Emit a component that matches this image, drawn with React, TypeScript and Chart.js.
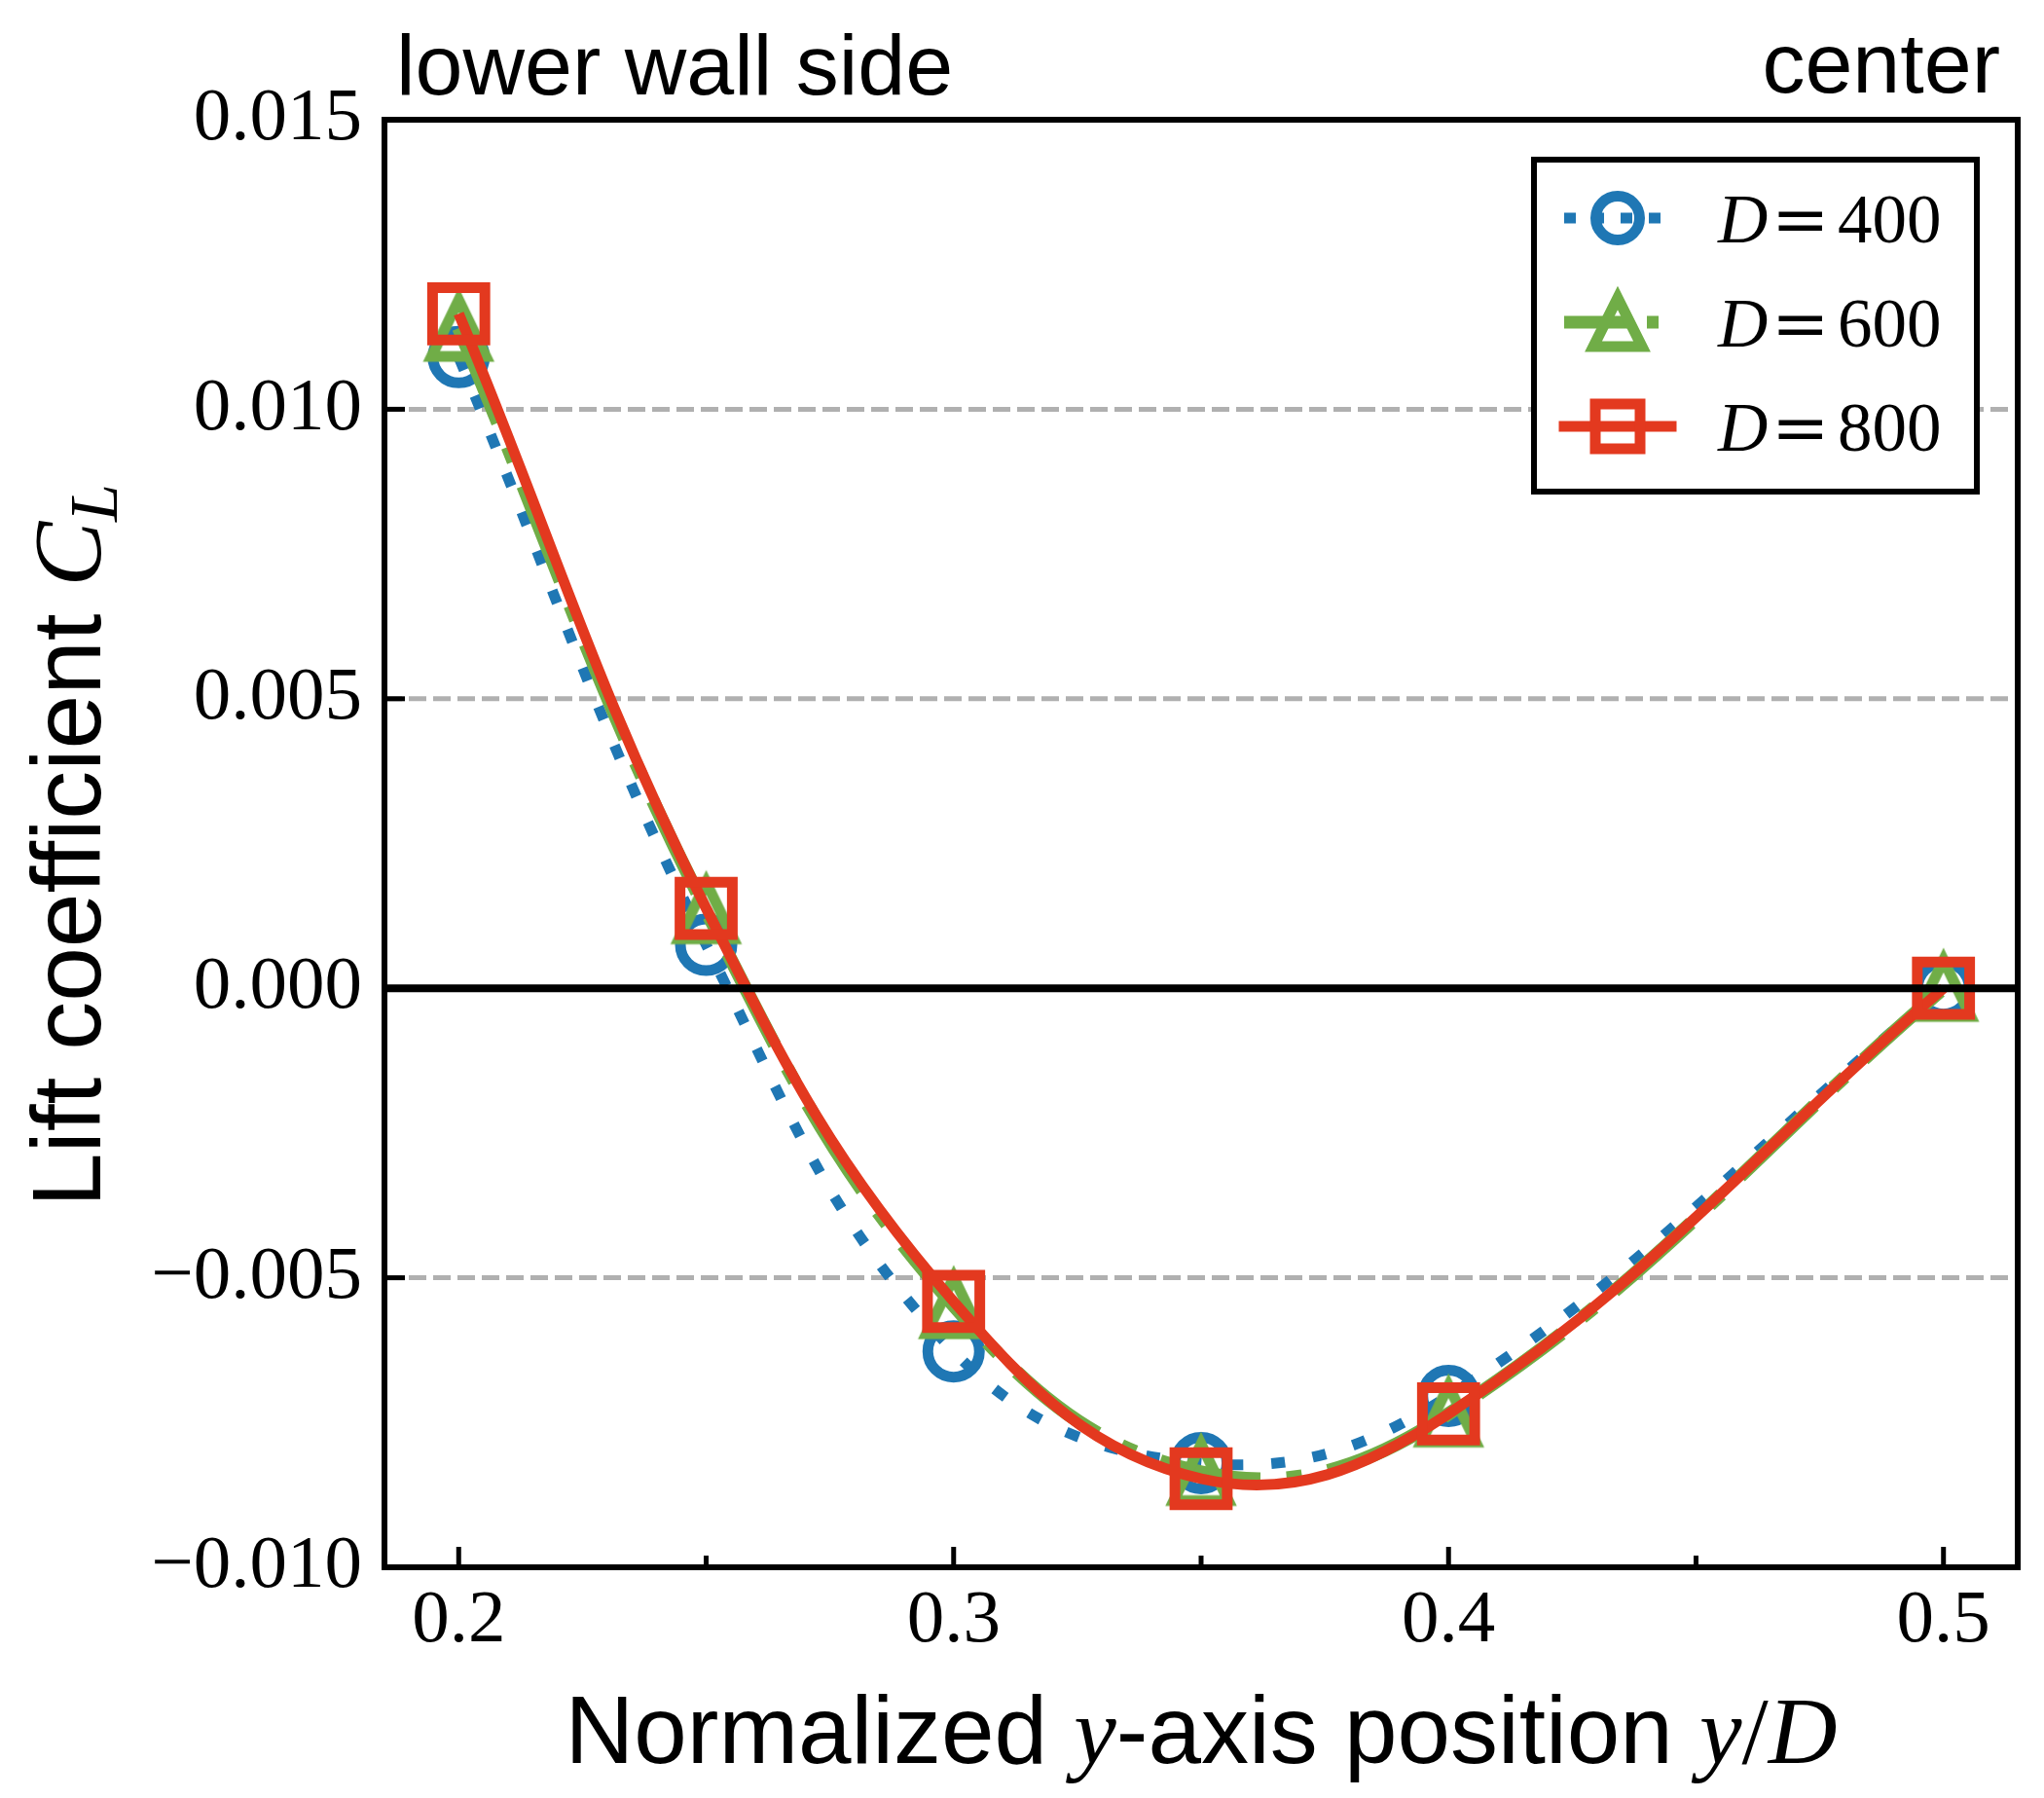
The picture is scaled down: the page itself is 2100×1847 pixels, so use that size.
import { useEffect, useRef } from 'react';
import { Chart, registerables } from 'chart.js';

Chart.register(...registerables);

// normalized y position y/D
const POS = [0.2, 0.25, 0.3, 0.35, 0.4, 0.5];
// lift coefficient C_L per grid size
const CL_D400 = [0.0109, 0.00075, -0.00627, -0.0082, -0.00704, 0.0];
const CL_D600 = [0.0114, 0.00134, -0.00548, -0.00836, -0.00735, 0.0];
const CL_D800 = [0.01165, 0.00138, -0.00541, -0.00847, -0.00735, 0.0];
const SERIES_NUM = ['400', '600', '800'];

const X_TICKS = [0.2, 0.3, 0.4, 0.5];
const X_MINOR = [0.25, 0.35, 0.45];
const Y_TICKS = [-0.01, -0.005, 0, 0.005, 0.01, 0.015];
const X_MIN = 0.185, X_MAX = 0.515;
const Y_MIN = -0.01, Y_MAX = 0.015;

const BLUE = '#1f77b4';
const GREEN = '#70ad47';
const RED = '#e3391f';

const SANS = '"Liberation Sans", Arial, sans-serif';
const SERIF = '"Liberation Serif", "Times New Roman", serif';
const MATH = '"DejaVu Serif", serif';

function triMarker(hw: number, hh: number, lw: number, color: string) {
  const c = document.createElement('canvas');
  const w = 2 * Math.ceil(hw + lw * 1.5), h = 2 * Math.ceil(hh + lw * 1.5);
  c.width = w; c.height = h;
  const g = c.getContext('2d')!;
  g.strokeStyle = color; g.lineWidth = lw; g.lineJoin = 'miter';
  g.beginPath();
  g.moveTo(w / 2, h / 2 - hh);
  g.lineTo(w / 2 - hw, h / 2 + hh);
  g.lineTo(w / 2 + hw, h / 2 + hh);
  g.closePath();
  g.stroke();
  return c;
}

function fmtY(v: number) {
  const s = Math.abs(v).toFixed(3);
  return v < -1e-9 ? '\u2212' + s : s;
}

type Piece = { t: string; f: string; dy?: number };

function drawPieces(ctx: CanvasRenderingContext2D, pieces: Piece[], x0: number, y0: number) {
  let w = 0;
  pieces.forEach(p => { ctx.font = p.f; w += ctx.measureText(p.t).width; });
  let x = x0 - w / 2;
  ctx.textAlign = 'left';
  ctx.textBaseline = 'alphabetic';
  pieces.forEach(p => {
    ctx.font = p.f;
    ctx.fillText(p.t, x, y0 + (p.dy || 0));
    x += ctx.measureText(p.t).width;
  });
}

export default function App() {
  const ref = useRef<HTMLCanvasElement>(null);
  const ci = useRef<Chart | null>(null);

  useEffect(() => {
    if (!ref.current) return;
    ci.current?.destroy();

    const triPlot = triMarker(28, 29, 11, GREEN);
    const triLeg = triMarker(25, 25, 11, GREEN);

    const decor = {
      id: 'decor',
      beforeDatasetsDraw(chart: any) {
        const { ctx, chartArea: a, scales } = chart;
        ctx.save();
        ctx.strokeStyle = '#b0b0b0';
        ctx.lineWidth = 5;
        ctx.setLineDash([18, 7]);
        Y_TICKS.forEach(v => {
          if (v === 0 || v === Y_MIN || v === Y_MAX) return;
          const py = scales.y.getPixelForValue(v);
          ctx.beginPath(); ctx.moveTo(a.left, py); ctx.lineTo(a.right, py); ctx.stroke();
        });
        ctx.restore();
      },
      afterDatasetsDraw(chart: any) {
        const { ctx, chartArea: a, scales } = chart;
        ctx.save();
        ctx.setLineDash([]);
        // zero line
        const y0 = scales.y.getPixelForValue(0);
        ctx.strokeStyle = '#000'; ctx.lineWidth = 8;
        ctx.beginPath(); ctx.moveTo(a.left, y0); ctx.lineTo(a.right, y0); ctx.stroke();
        // inward ticks
        ctx.lineWidth = 5;
        X_TICKS.forEach(v => {
          const px = scales.x.getPixelForValue(v);
          ctx.beginPath(); ctx.moveTo(px, a.bottom); ctx.lineTo(px, a.bottom - 21); ctx.stroke();
        });
        X_MINOR.forEach(v => {
          const px = scales.x.getPixelForValue(v);
          ctx.beginPath(); ctx.moveTo(px, a.bottom); ctx.lineTo(px, a.bottom - 12); ctx.stroke();
        });
        Y_TICKS.forEach(v => {
          const py = scales.y.getPixelForValue(v);
          ctx.beginPath(); ctx.moveTo(a.left, py); ctx.lineTo(a.left + 21, py); ctx.stroke();
        });
        // frame
        ctx.lineWidth = 6;
        ctx.lineJoin = 'miter';
        ctx.strokeRect(a.left, a.top, a.right - a.left, a.bottom - a.top);
        ctx.restore();
      },
      afterDraw(chart: any) {
        const { ctx, chartArea: a } = chart;
        ctx.save();

        // legend
        const bx = a.right - 497, by = a.top + 41, bw = 455, bh = 341;
        ctx.fillStyle = '#fff';
        ctx.fillRect(bx, by, bw, bh);
        ctx.strokeStyle = '#000'; ctx.lineWidth = 6; ctx.setLineDash([]);
        ctx.strokeRect(bx, by, bw, bh);
        const lx0 = bx + 31, lx1 = bx + 141, mx = bx + 86;
        const styles = [
          { c: BLUE, lw: 11, dash: [12, 17], cap: 'butt' },
          { c: GREEN, lw: 13, dash: [68, 17, 12, 17], cap: 'butt' },
          { c: RED, lw: 11, dash: [], cap: 'square' },
        ];
        styles.forEach((s, i) => {
          const ry = by + 60 + i * 107;
          ctx.strokeStyle = s.c; ctx.lineWidth = s.lw;
          ctx.lineCap = s.cap as CanvasLineCap;
          ctx.setLineDash(s.dash);
          ctx.beginPath(); ctx.moveTo(lx0, ry); ctx.lineTo(lx1, ry); ctx.stroke();
          ctx.setLineDash([]); ctx.lineCap = 'butt'; ctx.lineWidth = 11;
          if (i === 0) {
            ctx.beginPath(); ctx.arc(mx, ry, 22.5, 0, Math.PI * 2); ctx.stroke();
          } else if (i === 1) {
            ctx.drawImage(triLeg, mx - triLeg.width / 2, ry - triLeg.height / 2);
          } else {
            ctx.lineJoin = 'miter';
            ctx.strokeRect(mx - 23, ry - 23, 46, 46);
          }
          ctx.fillStyle = '#000';
          ctx.textAlign = 'left'; ctx.textBaseline = 'alphabetic';
          ctx.font = `italic 71px ${SERIF}`;
          ctx.fillText('D', bx + 189, ry + 25);
          ctx.font = `71px ${MATH}`;
          ctx.fillText('=', bx + 244, ry + 25);
          ctx.font = `71px ${SERIF}`;
          ctx.fillText(SERIES_NUM[i], bx + 312, ry + 25);
        });

        // top notes
        ctx.fillStyle = '#000';
        ctx.font = `88px ${SANS}`;
        ctx.textBaseline = 'alphabetic';
        ctx.textAlign = 'left';
        ctx.fillText('lower wall side', a.left + 12, 97);
        ctx.textAlign = 'right';
        ctx.fillText('center', a.right - 18, 95);

        // x title
        const sans = `98px ${SANS}`;
        const ital = `italic 98px ${SERIF}`;
        const rom = `98px ${SERIF}`;
        drawPieces(ctx, [
          { t: 'Normalized ', f: sans },
          { t: 'y', f: ital },
          { t: '-axis position ', f: sans },
          { t: 'y', f: ital },
          { t: '/', f: rom },
          { t: 'D', f: ital },
        ], (a.left + a.right) / 2, 1811);

        // y title
        ctx.translate(103, (a.top + a.bottom) / 2 + 2);
        ctx.rotate(-Math.PI / 2);
        drawPieces(ctx, [
          { t: 'Lift coefficient ', f: `100px ${SANS}` },
          { t: 'C', f: `italic 100px ${SERIF}` },
          { t: 'L', f: `italic 70px ${SERIF}`, dy: 17 },
        ], 0, 0);
        ctx.restore();
      },
    };

    const pts = (ys: number[]) => POS.map((x, i) => ({ x, y: ys[i] }));
    const tickFont = { family: SERIF, size: 77 };

    ci.current = new Chart(ref.current, {
      type: 'line',
      data: {
        datasets: [
          {
            label: 'D = 400', data: pts(CL_D400), order: 3,
            borderColor: BLUE, borderWidth: 11, borderDash: [14, 29], tension: 0.4,
            pointStyle: 'circle', pointRadius: 26.5, pointBorderWidth: 11,
            pointBorderColor: BLUE, pointBackgroundColor: 'rgba(0,0,0,0)',
          },
          {
            label: 'D = 600', data: pts(CL_D600), order: 2,
            borderColor: GREEN, borderWidth: 14, borderDash: [105, 27, 16, 27], tension: 0.4,
            pointStyle: triPlot as any, pointRadius: 30,
            pointBorderColor: GREEN, pointBackgroundColor: 'rgba(0,0,0,0)',
          },
          {
            label: 'D = 800', data: pts(CL_D800), order: 1,
            borderColor: RED, borderWidth: 11, tension: 0.4,
            pointStyle: 'rect', pointRadius: 38, pointBorderWidth: 11,
            pointBorderColor: RED, pointBackgroundColor: 'rgba(0,0,0,0)',
          },
        ] as any,
      },
      options: {
        responsive: true,
        maintainAspectRatio: false,
        animation: false,
        events: [],
        layout: { autoPadding: false, padding: { left: 0, right: 27, top: 123, bottom: 0 } },
        plugins: { legend: { display: false }, tooltip: { enabled: false } },
        scales: {
          x: {
            type: 'linear', min: X_MIN, max: X_MAX,
            grid: { display: false, drawTicks: false },
            border: { display: false },
            afterBuildTicks: (s: any) => { s.ticks = X_TICKS.map(value => ({ value })); },
            afterFit: (s: any) => { s.height = 237; s.paddingLeft = 0; s.paddingRight = 0; },
            ticks: {
              font: tickFont, color: '#000', padding: 10, maxRotation: 0, autoSkip: false,
              callback: (v: any) => Number(v).toFixed(1),
            },
          },
          y: {
            type: 'linear', min: Y_MIN, max: Y_MAX,
            grid: { display: false, drawTicks: false },
            border: { display: false },
            afterBuildTicks: (s: any) => { s.ticks = Y_TICKS.map(value => ({ value })); },
            afterFit: (s: any) => { s.width = 395; s.paddingTop = 0; s.paddingBottom = 0; },
            ticks: {
              font: tickFont, color: '#000', padding: 23, autoSkip: false,
              callback: (v: any) => fmtY(Number(v)),
            },
          },
        },
      } as any,
      plugins: [decor],
    });

    return () => { ci.current?.destroy(); ci.current = null; };
  }, []);

  return (
    <div style={{ width: 2100, height: 1847, position: 'relative', background: '#fff' }}>
      <style>{'body{margin:0}'}</style>
      <canvas ref={ref} />
    </div>
  );
}
